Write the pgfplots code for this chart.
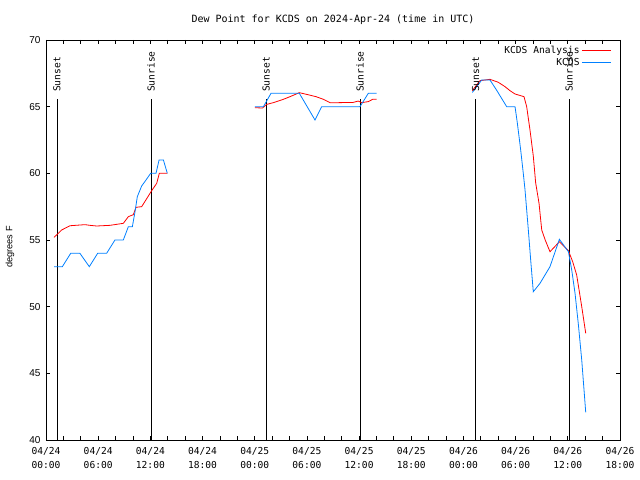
\documentclass[border=0pt]{standalone}
\usepackage{fontspec}
\setmainfont{Liberation Sans}
\newfontfamily\monof{DejaVu Sans Mono}
\usepackage{pgfplots}
\pgfplotsset{compat=1.18}
\definecolor{obsblue}{RGB}{0,128,255}
\begin{document}
\begin{tikzpicture}
\useasboundingbox (-46bp,-40bp) rectangle (594bp,440bp);
\fill[white] (-46bp,-40bp) rectangle (594bp,440bp);
\begin{axis}[
  at={(0,0)}, anchor=south west,
  scale only axis, width=574bp, height=400bp,
  xmin=0, xmax=66, ymin=40, ymax=70,
  xtick={0,6,...,66},
  minor x tick num=2,
  ytick={40,45,...,70},
  tick align=inside,
  major tick length=4.5bp, minor tick length=4.5bp,
  every tick/.style={black, line width=0.8bp},
  axis line style={line width=0.8bp},
  xticklabels={{04/24\\00:00},{04/24\\06:00},{04/24\\12:00},{04/24\\18:00},{04/25\\00:00},{04/25\\06:00},{04/25\\12:00},{04/25\\18:00},{04/26\\00:00},{04/26\\06:00},{04/26\\12:00},{04/26\\18:00}},
  xticklabel style={align=center, font=\monof\fontsize{9.6bp}{14bp}\selectfont, yshift=-4bp},
  yticklabel style={font=\fontsize{10bp}{12bp}\selectfont, xshift=-2bp},
  /pgf/number format/assume math mode=true,
  ylabel={degrees F},
  every axis y label/.style={at={(rel axis cs:0,0.4825)}, xshift=-36bp, rotate=90, anchor=center, font=\fontsize{9.2bp}{11bp}\selectfont},
  title={Dew Point for KCDS on 2024-Apr-24 (time in UTC)},
  every axis title/.style={at={(rel axis cs:0.5,1)}, yshift=20bp, anchor=center, font=\monof\fontsize{10bp}{12bp}\selectfont},
  legend style={draw=none, fill=none, at={(rel axis cs:0.987,0.9928)}, anchor=north east, font=\monof\fontsize{9.6bp}{11bp}\selectfont, row sep=-0.5bp, inner sep=1bp, cells={anchor=east}},
  legend plot pos=right,
  legend image code/.code={\draw[#1] (4bp,0bp) -- (33bp,0bp);},
  unbounded coords=jump,
  clip=false,
]
% sunset / sunrise lines
\addplot[black, line width=0.8bp, forget plot] coordinates {(1.26,40)(1.26,65.6)(1.26,nan)(12.07,40)(12.07,65.6)(12.07,nan)(25.3,40)(25.3,65.6)(25.3,nan)(36.1,40)(36.1,65.6)(36.1,nan)(49.4,40)(49.4,65.6)(49.4,nan)(60.15,40)(60.15,65.6)};
% KCDS Analysis
\addplot[red, line width=0.8bp] coordinates {
(0.92,55.2)(1.42,55.5)(1.8,55.75)(2.76,56.07)(4.48,56.15)(5.06,56.1)(5.83,56.05)(7.36,56.1)(8.89,56.25)(9.47,56.75)(10.04,56.9)(10.35,57.45)(11.0,57.5)(11.58,58.1)(12.15,58.7)(12.73,59.25)(13.03,60.0)(13.95,60.0)
(18,nan)
(24.03,64.92)(24.9,64.9)(25.37,65.17)(26.14,65.3)(27.29,65.55)(28.06,65.75)(29.13,66.05)(29.98,65.92)(31.05,65.75)(31.9,65.55)(32.66,65.3)(33.6,65.3)(35.33,65.32)(35.9,65.42)(36.3,65.3)(37.06,65.38)(37.56,65.55)(38.02,65.55)
(42,nan)
(49.02,66.2)(49.9,66.95)(51.05,67.05)(52.0,66.83)(52.78,66.5)(53.35,66.2)(53.93,65.95)(54.96,65.75)(55.27,65.0)(55.65,63.25)(56.03,61.3)(56.3,59.3)(56.69,57.75)(57.0,55.75)(57.4,55)(57.95,54.12)(59.03,54.87)(60.07,54.2)(60.56,53.37)(61.02,52.37)(61.6,50)(62.06,48)
};
\addlegendentry{KCDS Analysis}
% KCDS obs
\addplot[obsblue, line width=0.8bp] coordinates {
(0.92,53)(1.88,53)(2.84,54)(3.9,54)(4.98,53)(5.94,54)(6.97,54)(7.93,55)(8.89,55)(9.47,56)(9.93,56)(10.23,57.1)(10.5,58.25)(11.0,59.05)(11.5,59.5)(12.03,60)(12.65,60)(13.0,61)(13.5,61)(13.95,60)
(18,nan)
(24.03,65)(25,65)(25.87,66)(29.13,66)(30.93,64)(31.7,65)(36.1,65)(37.06,66)(38.02,66)
(42,nan)
(49.02,66.07)(50.1,67)(51.05,67)(51.8,66.25)(52.97,65)(53.93,65)(54.2,63.75)(54.58,61.75)(54.88,60)(55.08,58.75)(55.46,55.75)(55.73,53.5)(56.03,51.12)(56.8,51.75)(57.95,53)(59.03,55.05)(60.07,54.12)(60.45,52.75)(60.83,51)(61.2,48.75)(61.6,46)(62.06,42.07)
};
\addlegendentry{KCDS}
\foreach \h/\t in {1.26/Sunset,12.07/Sunrise,25.3/Sunset,36.1/Sunrise,49.4/Sunset,60.15/Sunrise}{
  \edef\tmp{\noexpand\node[rotate=90, anchor=west, inner sep=0pt, font=\noexpand\monof\noexpand\fontsize{9.6bp}{11bp}\noexpand\selectfont] at (axis cs:\h,66.1) {\t};}
  \tmp
}
\end{axis}
\end{tikzpicture}
\end{document}
